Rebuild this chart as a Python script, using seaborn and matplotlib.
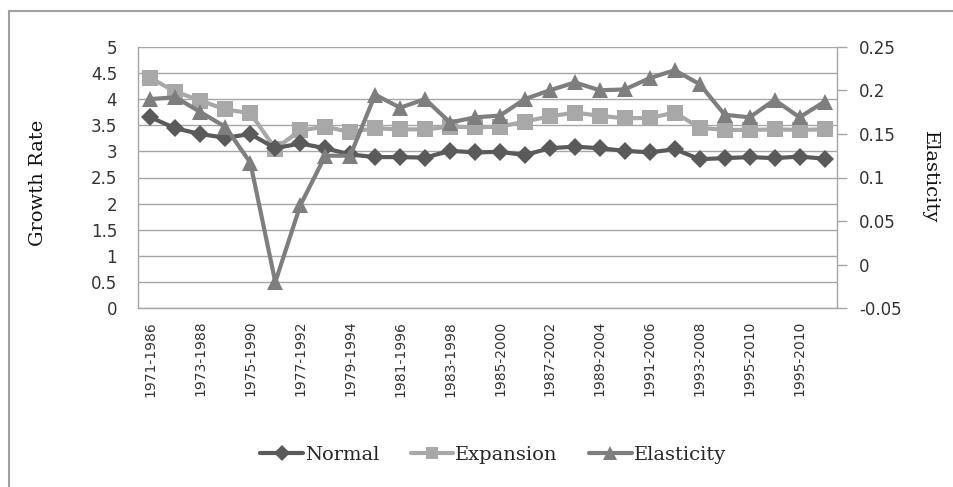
import numpy as np
import pandas as pd
import seaborn as sns
import matplotlib.pyplot as plt
from matplotlib.lines import Line2D

# --- data ---
periods = [f"{1971 + k}-{1986 + k}" for k in range(25)] + ["1996-2011", "1995-2010", "1997-2012"]

normal = [3.65, 3.44, 3.33, 3.26, 3.33, 3.06, 3.15, 3.06, 2.94, 2.89, 2.89, 2.88,
          3.01, 2.98, 2.99, 2.93, 3.06, 3.09, 3.06, 3.01, 2.98, 3.04, 2.85,
          2.87, 2.89, 2.87, 2.90, 2.86]
expansion = [4.40, 4.14, 3.97, 3.80, 3.73, 3.05, 3.40, 3.47, 3.37, 3.44, 3.42, 3.42,
             3.47, 3.46, 3.47, 3.57, 3.67, 3.74, 3.68, 3.63, 3.64, 3.74, 3.45,
             3.41, 3.41, 3.42, 3.41, 3.42]
elasticity = [0.190, 0.192, 0.175, 0.158, 0.117, -0.020, 0.068, 0.125, 0.125, 0.195, 0.180, 0.190,
              0.163, 0.169, 0.171, 0.190, 0.200, 0.209, 0.200, 0.201, 0.214, 0.223, 0.207,
              0.172, 0.169, 0.189, 0.169, 0.187]

df = pd.DataFrame({'idx': np.arange(len(periods)), 'period': periods,
                   'Normal': normal, 'Expansion': expansion, 'Elasticity': elasticity})

sns.set_style("white")
plt.rcParams['font.family'] = ['DejaVu Sans']

fig = plt.figure(figsize=(9.54, 4.87), dpi=100)
ax = fig.add_axes([138 / 954, 1 - 308.3 / 487, 699 / 954, 261.6 / 487])
ax2 = ax.twinx()

c_norm, c_exp, c_ela = '#5a5a5a', '#a8a8a8', '#7e7e7e'

sns.lineplot(data=df, x='idx', y='Normal', ax=ax, color=c_norm, lw=3, marker='D',
             markersize=9, markeredgewidth=0, label='Normal', legend=False, zorder=4)
sns.lineplot(data=df, x='idx', y='Expansion', ax=ax, color=c_exp, lw=3, marker='s',
             markersize=11, markeredgewidth=0, label='Expansion', legend=False, zorder=3)
sns.lineplot(data=df, x='idx', y='Elasticity', ax=ax2, color=c_ela, lw=3, marker='^',
             markersize=12, markeredgewidth=0, label='Elasticity', legend=False)

# left axis
ax.set_xlim(-0.5, len(periods) - 0.5)
ax.set_ylim(0, 5)
yt = np.arange(0, 5.01, 0.5)
ax.set_yticks(yt)
ax.set_yticklabels([f"{v:g}" for v in yt])
ax.yaxis.grid(True, color='#a6a6a6', lw=1)
ax.set_axisbelow(True)
ax.tick_params(axis='y', length=0, pad=15, labelsize=12, labelcolor='#333333')
ax.set_xticks(df['idx'][::2])
ax.set_xticklabels(df['period'][::2], rotation=90)
ax.tick_params(axis='x', length=0, pad=9, labelsize=10, labelcolor='#333333')
ax.set_xlabel('')
ax.set_ylabel('Growth Rate', family='DejaVu Serif', fontsize=14, color='#111111')
ax.yaxis.set_label_coords(-0.130, 0.48)

# right axis
ax2.set_ylim(-0.05, 0.25)
yt2 = [-0.05, 0, 0.05, 0.1, 0.15, 0.2, 0.25]
ax2.set_yticks(yt2)
ax2.set_yticklabels([f"{v:g}" for v in yt2])
ax2.tick_params(axis='y', length=7, width=1, color='#a6a6a6', pad=9, labelsize=12,
                labelcolor='#333333', direction='out')
ax2.set_ylabel('Elasticity', family='DejaVu Serif', fontsize=14, color='#111111',
               rotation=270, va='center')
ax2.yaxis.set_label_coords(1.133, 0.5)

for a in (ax, ax2):
    for s in a.spines.values():
        s.set_visible(False)
ax.spines['left'].set_visible(True)
ax.spines['bottom'].set_visible(True)
ax2.spines['right'].set_visible(True)
for s in (ax.spines['left'], ax.spines['bottom'], ax2.spines['right']):
    s.set_color('#a6a6a6')
    s.set_linewidth(1)

# legend at the bottom
handles = ax.get_lines()[:2] + ax2.get_lines()[:1]
fig.legend(handles, ['Normal', 'Expansion', 'Elasticity'], loc='center',
           bbox_to_anchor=(0.517, 0.066), ncol=3, frameon=False,
           prop={'family': 'DejaVu Serif', 'size': 14}, handlelength=2.2,
           handletextpad=0.1, columnspacing=1.6, markerscale=0.85)

# chart border (only top and left visible in the crop)
fig.add_artist(Line2D([9 / 954, 9 / 954], [0, 1 - 11 / 487], color='#a0a0a0', lw=1.5))
fig.add_artist(Line2D([9 / 954, 1], [1 - 11 / 487, 1 - 11 / 487], color='#a0a0a0', lw=1.5))

fig.savefig('out.png', dpi=100, facecolor='white')
